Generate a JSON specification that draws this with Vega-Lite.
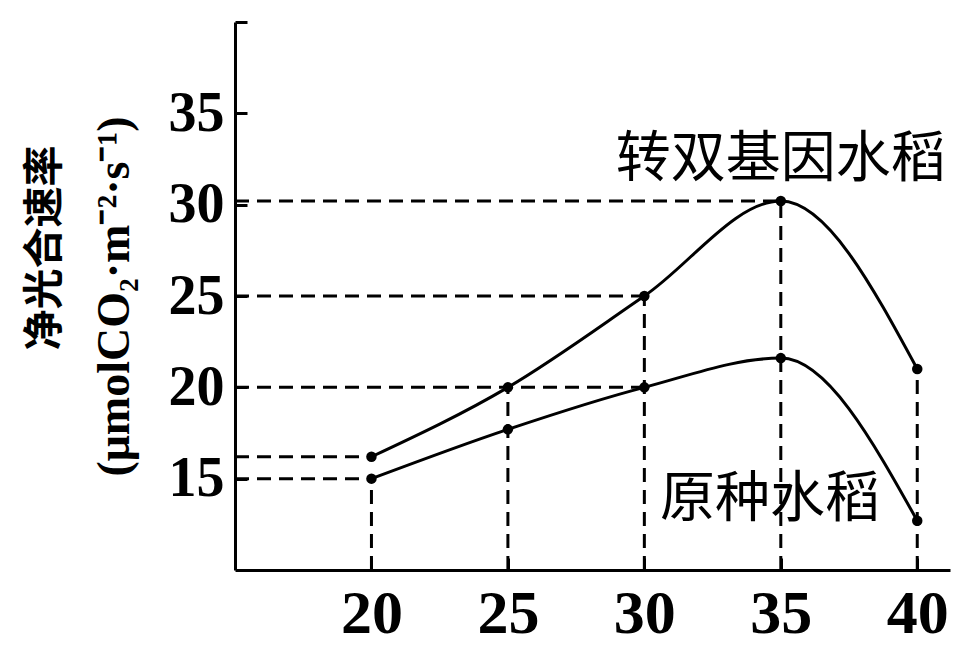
{
  "$schema": "https://vega.github.io/schema/vega-lite/v6.json",
  "width": 715,
  "height": 548,
  "autosize": {"type": "none"},
  "padding": {"left": 235, "top": 22, "right": 9, "bottom": 78},
  "background": "white",
  "title": {
    "text": "净光合速率",
    "orient": "left",
    "anchor": "middle",
    "font": "Noto Sans CJK SC",
    "fontSize": 41,
    "fontWeight": "bold",
    "color": "black",
    "offset": 24,
    "dx": 48
  },
  "config": {
    "view": {"stroke": null},
    "axis": {"grid": false, "domainColor": "black", "tickColor": "black", "labelColor": "black", "titleColor": "black"}
  },
  "datasets": {
    "curves": [
      {"temp": 20, "rate": 16.2, "variety": "转双基因水稻"},
      {"temp": 25, "rate": 20.0, "variety": "转双基因水稻"},
      {"temp": 30, "rate": 25.0, "variety": "转双基因水稻"},
      {"temp": 35, "rate": 30.2, "variety": "转双基因水稻"},
      {"temp": 40, "rate": 21.0, "variety": "转双基因水稻"},
      {"temp": 20, "rate": 15.0, "variety": "原种水稻"},
      {"temp": 25, "rate": 17.7, "variety": "原种水稻"},
      {"temp": 30, "rate": 20.0, "variety": "原种水稻"},
      {"temp": 35, "rate": 21.6, "variety": "原种水稻"},
      {"temp": 40, "rate": 12.7, "variety": "原种水稻"}
    ],
    "guides": [
      {"temp": 15, "temp2": 20, "rate": 16.2, "rate2": 16.2},
      {"temp": 15, "temp2": 20, "rate": 15.0, "rate2": 15.0},
      {"temp": 15, "temp2": 30, "rate": 20.0, "rate2": 20.0},
      {"temp": 15, "temp2": 30, "rate": 25.0, "rate2": 25.0},
      {"temp": 15, "temp2": 35, "rate": 30.2, "rate2": 30.2},
      {"temp": 20, "temp2": 20, "rate": 10, "rate2": 15.0},
      {"temp": 25, "temp2": 25, "rate": 10, "rate2": 20.0},
      {"temp": 30, "temp2": 30, "rate": 10, "rate2": 25.0},
      {"temp": 35, "temp2": 35, "rate": 10, "rate2": 30.2},
      {"temp": 40, "temp2": 40, "rate": 10, "rate2": 21.0}
    ],
    "labels": [
      {"temp": 35.0, "rate": 32.5, "name": "转双基因水稻"},
      {"temp": 34.6, "rate": 13.9, "name": "原种水稻"}
    ]
  },
  "layer": [
    {
      "data": {"name": "curves"},
      "mark": {"type": "line", "color": "black", "strokeWidth": 3, "interpolate": "monotone"},
      "encoding": {
        "x": {
          "field": "temp", "type": "quantitative",
          "scale": {"domain": [15, 41.2], "nice": false, "zero": false},
          "axis": {
            "values": [20, 25, 30, 35, 40], "title": null,
            "domainWidth": 3, "tickWidth": 3, "tickSize": -12,
            "labelFont": "Liberation Serif", "labelFontSize": 62, "labelFontWeight": "bold",
            "labelPadding": 25
          }
        },
        "y": {
          "field": "rate", "type": "quantitative",
          "scale": {"domain": [10, 40], "nice": false, "zero": false},
          "axis": {
            "values": [15, 20, 25, 30, 35, 40],
            "labelExpr": "datum.value == 40 ? '' : datum.label",
            "domainWidth": 3, "tickWidth": 3, "tickSize": -12,
            "labelFont": "Liberation Serif", "labelFontSize": 56, "labelFontWeight": "bold",
            "labelPadding": 23,
            "title": "(μmolCO₂·m⁻²·s⁻¹)",
            "titleFont": "Liberation Serif",
            "titleFontSize": 46, "titleFontWeight": "bold",
            "titlePadding": 30
          }
        },
        "detail": {"field": "variety"}
      }
    },
    {
      "data": {"name": "guides"},
      "mark": {"type": "rule", "color": "black", "strokeWidth": 3, "strokeDash": [14, 8]},
      "encoding": {
        "x": {"field": "temp", "type": "quantitative"},
        "x2": {"field": "temp2"},
        "y": {"field": "rate", "type": "quantitative"},
        "y2": {"field": "rate2"}
      }
    },
    {
      "data": {"name": "curves"},
      "mark": {"type": "point", "filled": true, "color": "black", "size": 110, "opacity": 1},
      "encoding": {
        "x": {"field": "temp", "type": "quantitative"},
        "y": {"field": "rate", "type": "quantitative"}
      }
    },
    {
      "data": {"name": "labels"},
      "mark": {"type": "text", "font": "Noto Sans CJK SC", "fontSize": 55, "color": "black", "align": "center", "baseline": "middle"},
      "encoding": {
        "x": {"field": "temp", "type": "quantitative"},
        "y": {"field": "rate", "type": "quantitative"},
        "text": {"field": "name"}
      }
    }
  ]
}
